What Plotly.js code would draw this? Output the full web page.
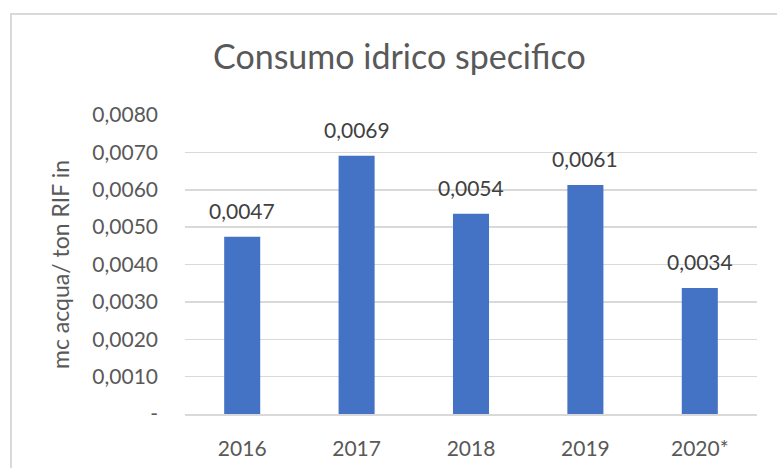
<!DOCTYPE html>
<html><head><meta charset="utf-8">
<script src="https://cdn.plot.ly/plotly-3.0.1.min.js"></script>
<style>
html,body{margin:0;padding:0;background:#fff;overflow:hidden}
#frame{position:absolute;left:10px;top:13px;width:800px;height:500px;border:2px solid #d9d9d9;box-sizing:border-box}
#chart{position:absolute;left:0;top:0;width:777px;height:468px}
</style></head>
<body>
<div id="frame"></div>
<div id="chart"></div>
<script>
const categories = ["2016", "2017", "2018", "2019", "2020*"];
const values = [0.00474, 0.00691, 0.00536, 0.00613, 0.00337];
const tickValues = [0, 0.001, 0.002, 0.003, 0.004, 0.005, 0.006, 0.007, 0.008];
const tickLabels = ["-", "0,0010", "0,0020", "0,0030", "0,0040", "0,0050", "0,0060", "0,0070", "0,0080"];

const font = "Lato, 'Open Sans', sans-serif";
const fmt = v => v.toFixed(4).replace(".", ",");

const trace = {
  type: "bar",
  x: categories,
  y: values,
  marker: {color: "#4472C4"},
  hoverinfo: "skip"
};
const labels = values.map((v, i) => ({
  x: i, y: v, xref: "x", yref: "y",
  text: fmt(v), showarrow: false,
  yanchor: "bottom", yshift: 12,
  font: {family: font, size: 21, color: "#404040"}
}));
const layout = {
  width: 777, height: 468,
  paper_bgcolor: "rgba(0,0,0,0)",
  plot_bgcolor: "rgba(0,0,0,0)",
  margin: {l: 185, r: 20, t: 115, b: 54},
  bargap: 0.685,
  showlegend: false,
  annotations: labels,
  title: {text: "Consumo idrico specifico", x: 0.514, xanchor: "center", y: 0.877, yanchor: "middle",
          font: {family: font, size: 34, color: "#595959"}},
  xaxis: {
    type: "category",
    categoryarray: categories,
    tickfont: {family: font, size: 21, color: "#595959"},
    showgrid: false, ticks: "", showline: true, linecolor: "#d9d9d9", linewidth: 1.5,
    ticklabelstandoff: 15
  },
  yaxis: {
    range: [0, 0.008],
    tickvals: tickValues, ticktext: tickLabels,
    tickfont: {family: font, size: 21, color: "#595959"},
    gridcolor: "#d9d9d9", gridwidth: 1.5, zeroline: false, ticks: "",
    ticklabelstandoff: 26,
    title: {text: "mc acqua/ ton RIF in", standoff: 16, font: {family: font, size: 23, color: "#595959"}}
  }
};
Plotly.newPlot("chart", [trace], layout, {displayModeBar: false, staticPlot: true});
</script>
</body></html>
